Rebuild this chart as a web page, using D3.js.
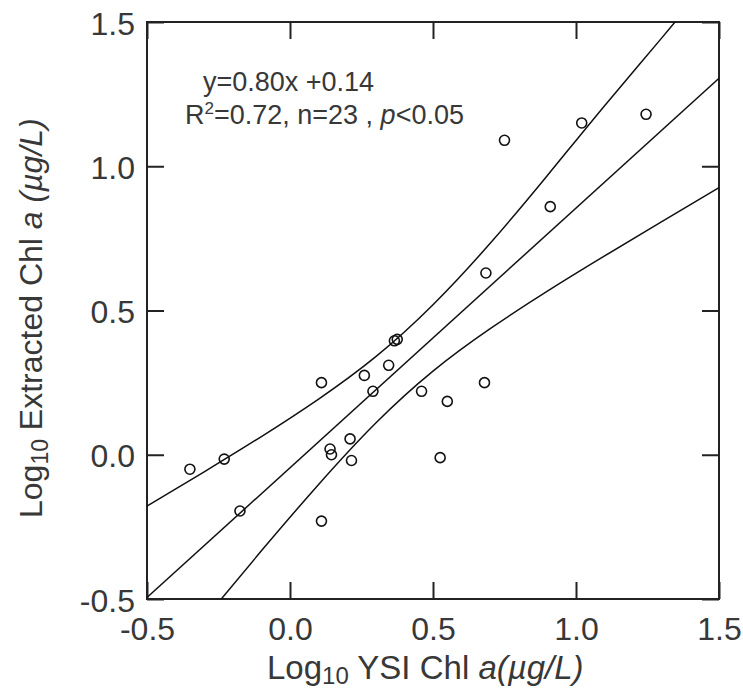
<!DOCTYPE html>
<html>
<head>
<meta charset="utf-8">
<script src="https://cdn.jsdelivr.net/npm/d3@7"></script>
<style>
  html, body { margin: 0; padding: 0; background: #fff; }
  svg { display: block; }
  text { font-family: "Liberation Sans", Arial, sans-serif; fill: #383838; }
</style>
</head>
<body>
<svg id="chart" width="743" height="691"></svg>
<script>
// ---- data ----
const pointX = [-0.35, -0.23, -0.175, 0.11, 0.11, 0.14, 0.145, 0.21, 0.215, 0.26, 0.29, 0.345, 0.365, 0.375, 0.46, 0.55, 0.525, 0.68, 0.685, 0.75, 1.02, 1.245, 0.91];
const pointY = [-0.05, -0.015, -0.195, 0.25, -0.23, 0.02, 0.0, 0.055, -0.02, 0.275, 0.22, 0.31, 0.395, 0.40, 0.22, 0.185, -0.01, 0.25, 0.63, 1.09, 1.15, 1.18, 0.86];

// fitted line as drawn
const fitX = [-0.5, 1.5];
const fitY = [-0.495, 1.305];

// confidence band curves
const bandX  = [-0.5, -0.3, -0.1, 0.1, 0.3, 0.5, 0.7, 0.9, 1.1, 1.3, 1.5];
const upperY = [-0.178, -0.059, 0.063, 0.193, 0.340, 0.520, 0.733, 0.968, 1.21, 1.445, 1.685];
const lowerY = [-0.812, -0.571, -0.333, -0.103, 0.110, 0.290, 0.437, 0.567, 0.689, 0.808, 0.926];

const xTicks = [-0.5, 0.0, 0.5, 1.0, 1.5];
const yTicks = [-0.5, 0.0, 0.5, 1.0, 1.5];
const xDomain = [-0.5, 1.5];
const yDomain = [-0.5, 1.5];

// ---- layout ----
const L = 147, R = 719, T = 22, B = 599;
const svg = d3.select("#chart");
const x = d3.scaleLinear().domain(xDomain).range([L, R]);
const y = d3.scaleLinear().domain(yDomain).range([B, T]);
const fmt = d => (d < 0 ? "-" : "") + Math.abs(d).toFixed(1);
const tickLen = 17;

svg.append("clipPath").attr("id", "clip")
  .append("rect").attr("x", L).attr("y", T).attr("width", R - L).attr("height", B - T);

// axes
function styleAxis(g) {
  g.select(".domain").remove();
  g.selectAll(".tick line").attr("stroke", "#222").attr("stroke-width", 2);
  g.selectAll("text").style("font-size", "32px").attr("fill", "#383838");
}
svg.append("g").attr("transform", `translate(0,${B})`)
  .call(d3.axisBottom(x).tickValues(xTicks).tickFormat(fmt).tickSize(-tickLen))
  .call(styleAxis)
  .call(g => g.selectAll("text").attr("y", 41).attr("dy", 0));
svg.append("g").attr("transform", `translate(0,${T})`)
  .call(d3.axisTop(x).tickValues(xTicks).tickFormat("").tickSize(-tickLen))
  .call(styleAxis);
svg.append("g").attr("transform", `translate(${L},0)`)
  .call(d3.axisLeft(y).tickValues(yTicks).tickFormat(fmt).tickSize(-tickLen))
  .call(styleAxis)
  .call(g => g.selectAll("text").attr("x", -12).attr("dy", 0).attr("y", 12));
svg.append("g").attr("transform", `translate(${R},0)`)
  .call(d3.axisRight(y).tickValues(yTicks).tickFormat("").tickSize(-tickLen))
  .call(styleAxis);

// frame
svg.append("rect").attr("x", L).attr("y", T).attr("width", R - L).attr("height", B - T)
  .attr("fill", "none").attr("stroke", "#222").attr("stroke-width", 2);

// lines
const plot = svg.append("g").attr("clip-path", "url(#clip)");
const lineGen = d3.line().x(d => x(d[0])).y(d => y(d[1]));
const curveGen = d3.line().x(d => x(d[0])).y(d => y(d[1])).curve(d3.curveNatural);
plot.append("path").datum(d3.zip(fitX, fitY)).attr("d", lineGen)
  .attr("fill", "none").attr("stroke", "#111").attr("stroke-width", 1.5);
plot.append("path").datum(d3.zip(bandX, upperY)).attr("d", curveGen)
  .attr("fill", "none").attr("stroke", "#111").attr("stroke-width", 1.5);
plot.append("path").datum(d3.zip(bandX, lowerY)).attr("d", curveGen)
  .attr("fill", "none").attr("stroke", "#111").attr("stroke-width", 1.5);

// points
plot.selectAll("circle.pt").data(d3.zip(pointX, pointY)).join("circle")
  .attr("class", "pt")
  .attr("cx", d => x(d[0])).attr("cy", d => y(d[1])).attr("r", 5)
  .attr("fill", "none").attr("stroke", "#111").attr("stroke-width", 1.6);

// annotation
const ann1 = svg.append("text").attr("x", 203).attr("y", 91).style("font-size", "27px").attr("fill", "#2e2838");
ann1.text("y=0.80x +0.14");
const ann2 = svg.append("text").attr("x", 185).attr("y", 124).style("font-size", "27px").attr("fill", "#2e2838");
ann2.append("tspan").text("R");
ann2.append("tspan").attr("dy", -10).style("font-size", "17px").text("2");
ann2.append("tspan").attr("dy", 10).text("=0.72, n=23 , ");
ann2.append("tspan").style("font-style", "italic").text("p");
ann2.append("tspan").text("<0.05");

// axis titles
const xt = svg.append("text").attr("x", 267).attr("y", 679).style("font-size", "33px");
xt.append("tspan").text("Log");
xt.append("tspan").attr("dy", 5).style("font-size", "24px").text("10");
xt.append("tspan").attr("dy", -5).text(" YSI Chl ");
xt.append("tspan").style("font-style", "italic").text("a(µg/L)");

const yt = svg.append("text").attr("transform", "translate(42,518) rotate(-90)").style("font-size", "32px");
yt.append("tspan").text("Log");
yt.append("tspan").attr("dy", 6).style("font-size", "23px").text("10");
yt.append("tspan").attr("dy", -6).text(" Extracted Chl ");
yt.append("tspan").style("font-style", "italic").text("a (µg/L)");
</script>
</body>
</html>
